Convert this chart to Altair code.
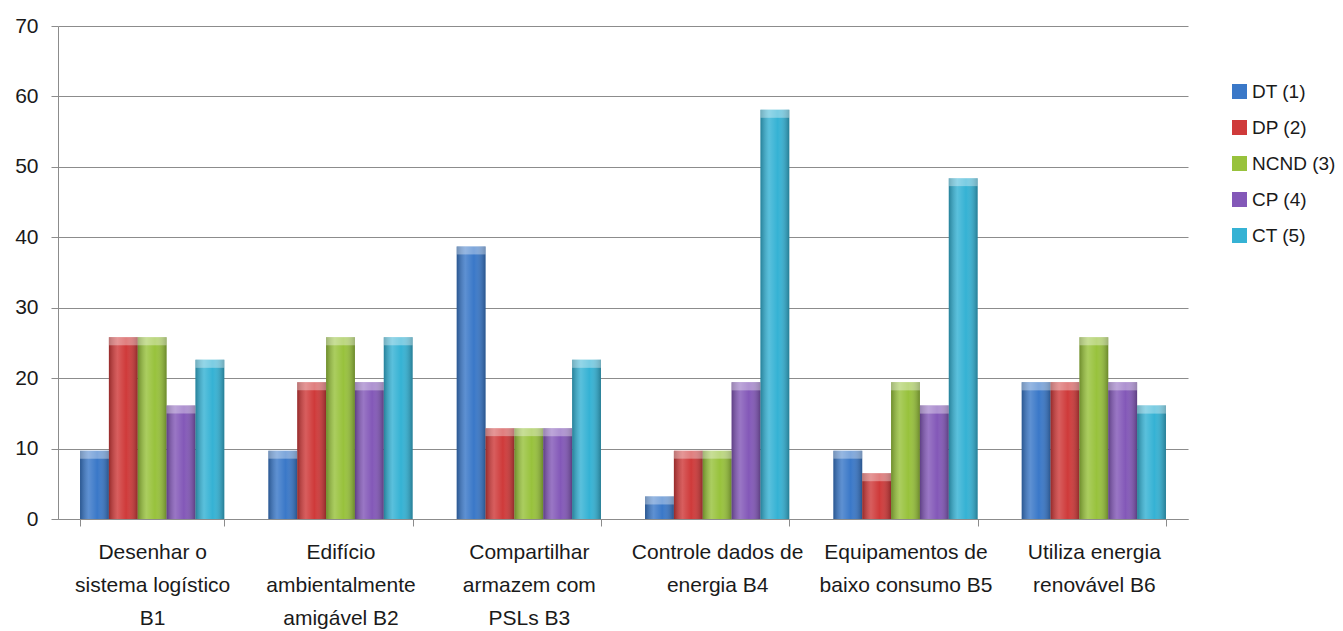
import altair as alt
import pandas as pd

# Category labels; "|" marks where each label wraps onto a new line
categories = [
    "Desenhar o|sistema logístico|B1",
    "Edifício|ambientalmente|amigável B2",
    "Compartilhar|armazem com|PSLs B3",
    "Controle dados de|energia B4",
    "Equipamentos de|baixo consumo B5",
    "Utiliza energia|renovável B6",
]
series = ["DT (1)", "DP (2)", "NCND (3)", "CP (4)", "CT (5)"]
colors = ["#3a78c8", "#cf3a3a", "#98c23c", "#8358b8", "#35b2d4"]

dt = [9.7, 9.7, 38.7, 3.2, 9.7, 19.4]
dp = [25.8, 19.4, 12.9, 9.7, 6.5, 19.4]
ncnd = [25.8, 25.8, 12.9, 9.7, 19.4, 25.8]
cp = [16.1, 19.4, 12.9, 19.4, 16.1, 19.4]
ct = [22.6, 25.8, 22.6, 58.1, 48.4, 16.1]

values = [dt, dp, ncnd, cp, ct]
rows = []
for s, vals in zip(series, values):
    for c, v in zip(categories, vals):
        rows.append({"categoria": c, "serie": s, "valor": v})
df = pd.DataFrame(rows)

FONT = "Liberation Sans"

x_enc = alt.X(
    "categoria:N",
    sort=categories,
    title=None,
    scale=alt.Scale(paddingInner=0.234, paddingOuter=0.117),
    axis=alt.Axis(
        labelExpr="split(datum.label, '|')",
        labelAngle=0,
        labelFontSize=21,
        labelLineHeight=33,
        labelPadding=15,
        labelLimit=300,
        labelColor="#1a1a1a",
        labelFont=FONT,
        tickBand="extent",
        tickSize=7,
        tickColor="#8c8c8c",
        domainColor="#8c8c8c",
        grid=False,
    ),
)
xo_enc = alt.XOffset("serie:N", sort=series, scale=alt.Scale(paddingInner=0, paddingOuter=0))
y_enc = alt.Y(
    "valor:Q",
    title=None,
    scale=alt.Scale(domain=[0, 70], nice=False),
    axis=alt.Axis(
        values=list(range(0, 71, 10)),
        labelFontSize=21,
        labelFont=FONT,
        labelColor="#1a1a1a",
        labelPadding=13,
        tickSize=7,
        tickColor="#8c8c8c",
        domainColor="#8c8c8c",
        gridColor="#8c8c8c",
        grid=True,
    ),
)

base = alt.Chart(df)

bars = base.mark_bar().encode(
    x=x_enc,
    xOffset=xo_enc,
    y=y_enc,
    color=alt.Color(
        "serie:N",
        sort=series,
        scale=alt.Scale(domain=series, range=colors),
        legend=alt.Legend(
            title=None,
            orient="none",
            legendX=1172,
            legendY=56,
            labelFontSize=19,
            labelFont=FONT,
            labelColor="#1a1a1a",
            symbolType="square",
            symbolSize=225,
            symbolStrokeWidth=0,
            symbolOpacity=1,
            rowPadding=16,
            labelOffset=3,
            padding=0,
        ),
    ),
)

# Cylindrical shading across each bar
shade = base.mark_bar(
    color=alt.Gradient(
        gradient="linear",
        x1=0, x2=1, y1=0, y2=0,
        stops=[
            alt.GradientStop(color="rgba(0,0,0,0.28)", offset=0),
            alt.GradientStop(color="rgba(255,255,255,0.18)", offset=0.3),
            alt.GradientStop(color="rgba(255,255,255,0.0)", offset=0.6),
            alt.GradientStop(color="rgba(0,0,0,0.30)", offset=1),
        ],
    )
).encode(x=x_enc, xOffset=xo_enc, y=y_enc)

# Light bevel along the top of each bar
bevel = base.mark_bar(
    color="rgba(255,255,255,0.35)", y2Offset=8
).encode(x=x_enc, xOffset=xo_enc, y=y_enc, y2=alt.Y2("valor:Q"))

chart = (
    alt.layer(bars, shade, bevel)
    .properties(
        width=1130,
        height=493,
        autosize=alt.AutoSizeParams(type="none"),
        padding={"left": 58, "top": 26, "right": 155, "bottom": 112},
        background="white",
    )
    .configure_view(stroke=None)
)

chart.save("out.html", embed_options={"renderer": "svg", "actions": False})
